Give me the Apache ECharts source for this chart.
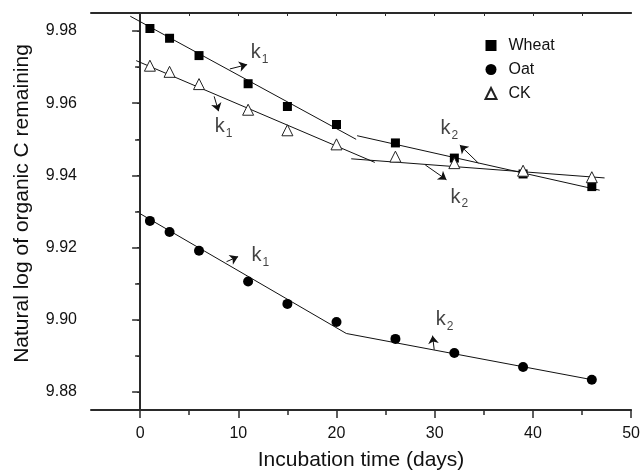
<!DOCTYPE html>
<html>
<head>
<meta charset="utf-8">
<script src="https://cdn.jsdelivr.net/npm/echarts@6/dist/echarts.min.js"></script>
<style>
  html, body { margin: 0; padding: 0; background: #fff; }
  #chart { width: 643px; height: 476px; }
</style>
</head>
<body>
<div id="chart"></div>
<script>
// sampling days
var days = [1, 3, 6, 11, 15, 20, 26, 32, 39, 46]
// measured values
var wheat = [9.9807, 9.9780, 9.9732, 9.9654, 9.9591, 9.9541, 9.9490, 9.9448, 9.9404, 9.9369]
var oat = [9.9274, 9.9243, 9.9191, 9.9106, 9.9044, 9.8994, 9.8947, 9.8908, 9.8869, 9.8834]
var ck = [9.9704, 9.9687, 9.9653, 9.9582, 9.9525, 9.9486, 9.9452, 9.9434, 9.9413, 9.9395]
// fitted lines (two phases)
var wheatK1 = [[-1.0, 9.9841], [22.0, 9.9500]]
var wheatK2 = [[22.1, 9.9510], [46.8, 9.9359]]
var ckK1 = [[-0.4, 9.9718], [23.9, 9.9436]]
var ckK2 = [[21.5, 9.9446], [47.3, 9.9393]]
var oatFit = [[0, 9.9294], [21.0, 9.8962], [46.4, 9.8832]]
// k annotations: arrows and label spots
var arrows = [
  [[9.14, 9.9695], [10.9, 9.9707]],
  [[7.54, 9.9619], [7.99, 9.9578]],
  [[34.45, 9.9434], [32.56, 9.9484]],
  [[29.04, 9.9429], [31.2, 9.9388]],
  [[8.8, 9.9161], [9.98, 9.9175]],
  [[29.95, 9.8917], [29.78, 9.8956]]
]
var kLabels = [
  [11.27, 9.9741, '1'],
  [7.6, 9.9535, '1'],
  [30.6, 9.9529, '2'],
  [31.6, 9.9340, '2'],
  [11.34, 9.9178, '1'],
  [30.1, 9.9001, '2']
]
// ticks
var xLabels = [0, 10, 20, 30, 40, 50]
var xMinor = [5, 15, 25, 35, 45]
var xTop = [0, 5, 10, 15, 20, 25, 30, 35, 40, 45]
var yLabels = [9.88, 9.90, 9.92, 9.94, 9.96, 9.98]
var yMinor = [9.89, 9.91, 9.93, 9.95, 9.97]
var yRight = [9.88, 9.89, 9.90, 9.91, 9.92, 9.93, 9.94, 9.95, 9.96, 9.97, 9.98]

var font = 'Liberation Sans, Arial, sans-serif'
var axisColor = '#2a2a2a'

function pairs (xs, ys) {
  return xs.map(function (x, i) { return [x, ys[i]] })
}

function fitLine (data) {
  return {
    type: 'line',
    data: data,
    symbol: 'none',
    silent: true,
    lineStyle: { color: '#111', width: 1 },
    z: 1
  }
}

var xBase = { type: 'value', min: -5, max: 50, gridIndex: 0, splitLine: { show: false } }
var yBase = { type: 'value', min: 9.875, max: 9.985, gridIndex: 0, splitLine: { show: false } }

var option = {
  animation: false,
  backgroundColor: '#fff',
  grid: { left: 91, right: 10, top: 13, bottom: 63 },
  legend: {
    orient: 'vertical',
    left: 479.5,
    top: 32.5,
    itemWidth: 11,
    itemHeight: 11,
    itemGap: 8,
    data: ['Wheat', 'Oat', 'CK'],
    textStyle: { fontFamily: font, fontSize: 16, color: '#111', padding: [0, 0, 0, 7] }
  },
  xAxis: [
    Object.assign({}, xBase, {
      position: 'bottom',
      name: 'Incubation time (days)',
      nameLocation: 'middle',
      nameGap: 40,
      nameTextStyle: { fontFamily: font, fontSize: 21, color: '#111' },
      axisLine: { show: true, lineStyle: { color: axisColor, width: 2 } },
      axisTick: { show: true, customValues: xLabels, length: 8, lineStyle: { color: axisColor, width: 1.5 } },
      axisLabel: { customValues: xLabels, margin: 16, fontFamily: font, fontSize: 16, color: '#111' }
    }),
    Object.assign({}, xBase, {
      position: 'bottom',
      axisLine: { show: false },
      axisTick: { show: true, customValues: xMinor, length: 5, lineStyle: { color: axisColor, width: 1.5 } },
      axisLabel: { show: false }
    }),
    Object.assign({}, xBase, {
      position: 'top',
      axisLine: { show: true, lineStyle: { color: axisColor, width: 2 } },
      axisTick: { show: true, inside: true, customValues: xTop, length: 3, lineStyle: { color: axisColor, width: 1 } },
      axisLabel: { show: false }
    })
  ],
  yAxis: [
    Object.assign({}, yBase, {
      position: 'left',
      name: 'Natural log of organic C remaining',
      nameLocation: 'middle',
      nameGap: 58,
      nameTextStyle: { fontFamily: font, fontSize: 21, color: '#111', padding: [0, 0, 0, 16] },
      axisLine: { show: true, lineStyle: { color: axisColor, width: 2 } },
      axisTick: { show: true, customValues: yLabels, length: 8, lineStyle: { color: axisColor, width: 1.5 } },
      axisLabel: {
        customValues: yLabels,
        margin: 14,
        fontFamily: font,
        fontSize: 16,
        color: '#111',
        formatter: function (v) { return v.toFixed(2) }
      }
    }),
    Object.assign({}, yBase, {
      position: 'left',
      axisLine: { show: false },
      axisTick: { show: true, customValues: yMinor, length: 5, lineStyle: { color: axisColor, width: 1.5 } },
      axisLabel: { show: false }
    }),
    Object.assign({}, yBase, {
      position: 'right',
      axisLine: { show: true, lineStyle: { color: axisColor, width: 2 } },
      axisTick: { show: true, inside: true, customValues: yRight, length: 3, lineStyle: { color: axisColor, width: 1 } },
      axisLabel: { show: false }
    })
  ],
  series: [
    fitLine(wheatK1),
    fitLine(wheatK2),
    fitLine(ckK1),
    fitLine(ckK2),
    fitLine(oatFit),
    {
      name: 'Wheat',
      type: 'scatter',
      data: pairs(days, wheat),
      symbol: 'rect',
      symbolSize: 9,
      itemStyle: { color: '#000', opacity: 1 },
      z: 3
    },
    {
      name: 'Oat',
      type: 'scatter',
      data: pairs(days, oat),
      symbol: 'circle',
      symbolSize: 10,
      itemStyle: { color: '#000', opacity: 1 },
      z: 3
    },
    {
      name: 'CK',
      type: 'scatter',
      data: pairs(days, ck),
      symbol: 'triangle',
      symbolSize: 11,
      itemStyle: { color: '#fff', borderColor: '#222', borderWidth: 1, opacity: 1 },
      z: 3
    },
    {
      type: 'lines',
      coordinateSystem: 'cartesian2d',
      silent: true,
      symbol: ['none', 'arrow'],
      symbolSize: 8,
      lineStyle: { color: '#111', width: 1, opacity: 1 },
      data: arrows.map(function (a) { return { coords: a } }),
      z: 4
    },
    {
      type: 'scatter',
      silent: true,
      symbolSize: 0,
      data: kLabels.map(function (k) { return { value: [k[0], k[1]], sub: k[2] } }),
      label: {
        show: true,
        position: 'right',
        distance: 0,
        formatter: function (p) { return '{k|k}{s|' + p.data.sub + '}' },
        rich: {
          k: { fontFamily: font, fontSize: 20, lineHeight: 26, color: '#111' },
          s: { fontFamily: font, fontSize: 12, lineHeight: 12, padding: [14, 0, 0, 1], color: '#111' }
        }
      },
      z: 5
    }
  ]
}

var chart = echarts.init(document.getElementById('chart'))
chart.setOption(option)
</script>
</body>
</html>
